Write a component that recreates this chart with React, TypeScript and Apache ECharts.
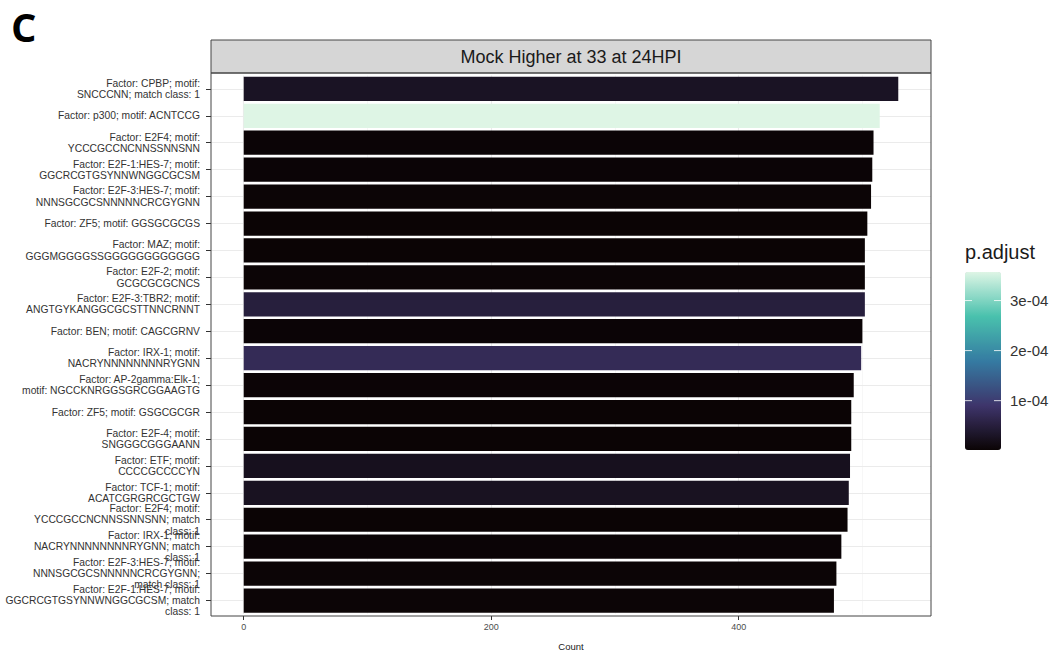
import React, { useEffect, useRef } from "react";
import * as echarts from "echarts";

const categories: string[] = [
  "Factor: CPBP; motif:\nSNCCCNN; match class: 1",
  "Factor: p300; motif: ACNTCCG",
  "Factor: E2F4; motif:\nYCCCGCCNCNNSSNNSNN",
  "Factor: E2F-1:HES-7; motif:\nGGCRCGTGSYNNWNGGCGCSM",
  "Factor: E2F-3:HES-7; motif:\nNNNSGCGCSNNNNNCRCGYGNN",
  "Factor: ZF5; motif: GGSGCGCGS",
  "Factor: MAZ; motif:\nGGGMGGGGSSGGGGGGGGGGGG",
  "Factor: E2F-2; motif:\nGCGCGCGCNCS",
  "Factor: E2F-3:TBR2; motif:\nANGTGYKANGGCGCSTTNNCRNNT",
  "Factor: BEN; motif: CAGCGRNV",
  "Factor: IRX-1; motif:\nNACRYNNNNNNNNRYGNN",
  "Factor: AP-2gamma:Elk-1;\nmotif: NGCCKNRGGSGRCGGAAGTG",
  "Factor: ZF5; motif: GSGCGCGR",
  "Factor: E2F-4; motif:\nSNGGGCGGGAANN",
  "Factor: ETF; motif:\nCCCCGCCCCYN",
  "Factor: TCF-1; motif:\nACATCGRGRCGCTGW",
  "Factor: E2F4; motif:\nYCCCGCCNCNNSSNNSNN; match\nclass: 1",
  "Factor: IRX-1; motif:\nNACRYNNNNNNNNRYGNN; match\nclass: 1",
  "Factor: E2F-3:HES-7; motif:\nNNNSGCGCSNNNNNCRCGYGNN;\nmatch class: 1",
  "Factor: E2F-1:HES-7; motif:\nGGCRCGTGSYNNWNGGCGCSM; match\nclass: 1",
];

const counts: number[] = [529, 514, 509, 508, 507, 504, 502, 502, 502, 500, 499, 493, 491, 491, 490, 489, 488, 483, 479, 477];

const pAdjust: number[] = [
  2.8e-5, 3.57e-4, 2.0e-6, 2.2e-6, 2.4e-6, 1.6e-6, 1.8e-6, 2.5e-6, 5.0e-5, 2.1e-6,
  7.2e-5, 2.3e-6, 1.5e-6, 1.7e-6, 2.3e-5, 2.6e-5, 1.4e-6, 1.9e-6, 2.6e-6, 2.7e-6,
];

const xTickValues: number[] = [0, 200, 400];
const legendTickValues: number[] = [1e-4, 2e-4, 3e-4];
const legendTickLabels: string[] = ["1e-04", "2e-04", "3e-04"];

const titleText = "Mock Higher at 33 at 24HPI";
const panelLetter = "C";
const legendTitle = "p.adjust";
const xAxisName = "Count";

const makoColors = ["#0B0405", "#3E356B", "#357BA2", "#49C1AD", "#DEF5E5"];

const FONT = "'Liberation Sans', Arial, Helvetica, sans-serif";

export default function App() {
  const ref = useRef<HTMLDivElement>(null);

  useEffect(() => {
    if (!ref.current) return;
    const chart = echarts.init(ref.current, null, { renderer: "svg" });

    const panel = { left: 211, top: 73, width: 720, height: 543 };
    const gridTop = 75.4;
    const gridHeight = 538.6;

    const maxCount = Math.max(...counts);
    const xMin = -0.05 * maxCount;
    const xMax = 1.05 * maxCount;

    const pMin = Math.min(...pAdjust);
    const pMax = Math.max(...pAdjust);

    const legend = { left: 965, top: 272, width: 36, height: 178 };
    const legendY = (v: number) =>
      legend.top + legend.height - ((v - pMin) / (pMax - pMin)) * legend.height;

    const graphics: any[] = [
      {
        type: "rect",
        shape: { x: panel.left, y: 40, width: panel.width, height: 33 },
        style: { fill: "#d6d6d6", stroke: "#444", lineWidth: 1 },
        z: 100,
      },
      {
        type: "text",
        x: panel.left + panel.width / 2,
        y: 56.5,
        style: {
          text: titleText,
          fontSize: 18,
          fontFamily: FONT,
          fill: "#1a1a1a",
          textAlign: "center",
          textVerticalAlign: "middle",
        },
        z: 101,
      },
      {
        type: "rect",
        shape: { x: panel.left, y: panel.top, width: panel.width, height: panel.height },
        style: { fill: "none", stroke: "#444", lineWidth: 1 },
        z: 100,
      },
      {
        type: "text",
        x: 11,
        y: 26,
        style: {
          text: panelLetter,
          fontSize: 40,
          fontWeight: "bold",
          fontFamily: "'Open Sans', 'Liberation Sans', sans-serif",
          fill: "#000",
          textAlign: "left",
          textVerticalAlign: "middle",
        },
      },
      {
        type: "text",
        x: 965,
        y: 252,
        style: {
          text: legendTitle,
          fontSize: 20,
          fontFamily: FONT,
          fill: "#1a1a1a",
          textAlign: "left",
          textVerticalAlign: "middle",
        },
      },
    ];

    legendTickValues.forEach((v, i) => {
      const y = legendY(v);
      graphics.push({
        type: "line",
        shape: { x1: legend.left, y1: y, x2: legend.left + 7, y2: y },
        style: { stroke: "#ffffff", lineWidth: 1, opacity: 0.8 },
        z: 110,
      });
      graphics.push({
        type: "line",
        shape: { x1: legend.left + legend.width - 7, y1: y, x2: legend.left + legend.width, y2: y },
        style: { stroke: "#ffffff", lineWidth: 1, opacity: 0.8 },
        z: 110,
      });
      graphics.push({
        type: "text",
        x: 1010,
        y,
        style: {
          text: legendTickLabels[i],
          fontSize: 15,
          fontFamily: FONT,
          fill: "#333",
          textAlign: "left",
          textVerticalAlign: "middle",
        },
      });
    });

    const option: any = {
      animation: false,
      backgroundColor: "#ffffff",
      grid: {
        left: panel.left,
        top: gridTop,
        width: panel.width,
        height: gridHeight,
        containLabel: false,
        outerBoundsMode: "none",
        show: false,
      },
      xAxis: {
        type: "value",
        min: xMin,
        max: xMax,
        splitNumber: 3,
        offset: panel.top + panel.height - (gridTop + gridHeight),
        axisLine: { show: false, onZero: false },
        axisTick: {
          show: true,
          length: 4,
          customValues: xTickValues,
          lineStyle: { color: "#333", width: 1 },
        },
        axisLabel: {
          customValues: xTickValues,
          fontSize: 9,
          fontFamily: FONT,
          color: "#4d4d4d",
          margin: 6,
        },
        splitLine: { show: true, lineStyle: { color: "#ebebeb", width: 1.1 } },
        minorTick: { show: false, splitNumber: 2 },
        minorSplitLine: { show: true, lineStyle: { color: "#f2f2f2", width: 0.6 } },
        name: xAxisName,
        nameLocation: "middle",
        nameGap: 25,
        nameTextStyle: { fontSize: 9.5, fontFamily: FONT, color: "#1a1a1a" },
      },
      yAxis: {
        type: "category",
        data: categories,
        inverse: true,
        axisLine: { show: false, onZero: false },
        axisTick: {
          show: true,
          alignWithLabel: true,
          length: 5,
          lineStyle: { color: "#333", width: 1 },
        },
        axisLabel: {
          interval: 0,
          fontSize: 10.3,
          lineHeight: 11.3,
          fontFamily: FONT,
          color: "#333",
          margin: 11,
          align: "right",
        },
        splitLine: { show: false },
      },
      visualMap: {
        type: "continuous",
        seriesIndex: 0,
        dimension: 2,
        min: pMin,
        max: pMax,
        left: legend.left,
        top: legend.top,
        itemWidth: legend.width,
        itemHeight: legend.height,
        padding: 0,
        calculable: false,
        hoverLink: false,
        showLabel: false,
        text: null,
        inRange: { color: makoColors },
      },
      series: [
        {
          type: "bar",
          name: "count",
          data: counts.map((c, i) => [c, categories[i], pAdjust[i]]),
          encode: { x: 0, y: 1 },
          barWidth: "90%",
          z: 3,
          silent: true,
        },
        {
          type: "line",
          name: "hgrid",
          data: [],
          z: 0,
          silent: true,
          markLine: {
            silent: true,
            z: 0,
            symbol: ["none", "none"],
            label: { show: false },
            lineStyle: { color: "#ebebeb", type: "solid", width: 1.1 },
            data: categories.map((c) => ({ yAxis: c })),
          },
        },
      ],
      graphic: graphics,
    };

    chart.setOption(option);
    return () => chart.dispose();
  }, []);

  return (
    <div
      ref={ref}
      style={{ position: "absolute", left: 0, top: 0, width: 1060, height: 651, background: "#fff" }}
    />
  );
}
